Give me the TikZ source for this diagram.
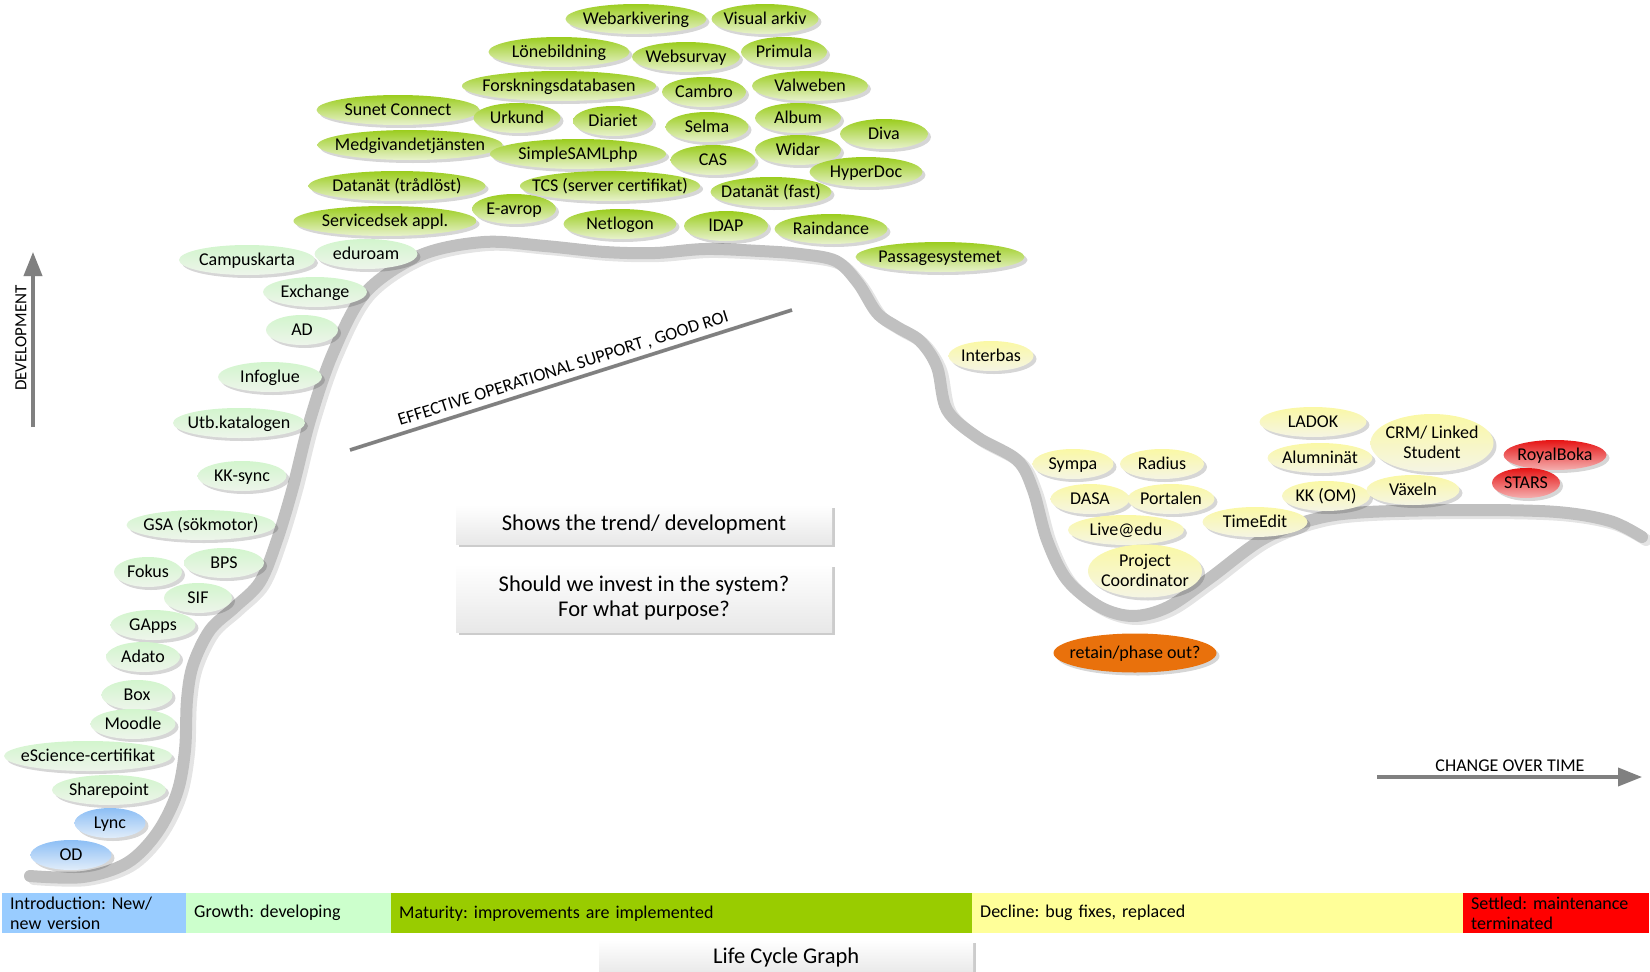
\documentclass[tikz,border=0pt]{standalone}
\usepackage{fontspec}
\setmainfont{Carlito}
\frenchspacing
\usetikzlibrary{shapes.geometric,shadows,arrows.meta}
\definecolor{matT}{RGB}{155,205,30}
\definecolor{matB}{RGB}{232,242,205}
\definecolor{groT}{RGB}{210,245,205}
\definecolor{groB}{RGB}{238,245,235}
\definecolor{bluT}{RGB}{140,190,245}
\definecolor{bluB}{RGB}{225,237,250}
\definecolor{yelT}{RGB}{250,248,165}
\definecolor{yelB}{RGB}{245,245,228}
\definecolor{redT}{RGB}{230,20,20}
\definecolor{redB}{RGB}{245,175,175}
\definecolor{orng}{RGB}{233,113,12}
\definecolor{barBlue}{RGB}{153,204,255}
\definecolor{barLGreen}{RGB}{204,255,204}
\definecolor{barGreen}{RGB}{153,204,0}
\definecolor{barYellow}{RGB}{255,255,153}
\definecolor{barRed}{RGB}{255,0,0}
\definecolor{band}{RGB}{192,192,192}
\definecolor{bandShadow}{RGB}{228,228,228}
\definecolor{arrowGray}{RGB}{128,128,128}
\newcommand{\ct}[1]{\raisebox{-0.32em}[0pt][0pt]{\makebox[0pt]{#1}}}
\newcommand{\cttwo}[2]{\raisebox{-0.3em}[0pt][0pt]{\makebox[0pt]{\begin{tabular}{@{}c@{}}#1\\#2\end{tabular}}}}
\tikzset{
  ell/.style={ellipse, inner sep=0pt, minimum height=30pt,
    font=\fontsize{18}{20}\selectfont,
    drop shadow={shadow xshift=3pt, shadow yshift=-3pt, fill=black, opacity=0.16}},
  ew/.style={minimum width=#1pt},
  mat/.style={ell, top color=matT, bottom color=matB},
  gro/.style={ell, top color=groT, bottom color=groB},
  blu/.style={ell, top color=bluT, bottom color=bluB},
  yel/.style={ell, top color=yelT, bottom color=yelB},
  settled/.style={ell, top color=redT, bottom color=redB},
  phase/.style={ell, fill=orng, minimum height=39pt},
  seg/.style={rectangle, anchor=north west, minimum height=40pt, inner xsep=8pt,
    inner ysep=0pt, align=left, font=\fontsize{18}{20}\selectfont},
  txtbox/.style={rectangle, top color=white, bottom color=black!9, inner sep=0pt,
    font=\fontsize{22.5}{24.5}\selectfont, align=center,
    drop shadow={shadow xshift=2.5pt, shadow yshift=-2.5pt, fill=black, opacity=0.2}},
  axisarrow/.style={draw=arrowGray, line width=3.5pt, -{Triangle[length=24pt,width=18pt]}},
  axisshadow/.style={draw=black!12, line width=3.5pt, -{Triangle[length=24pt,width=18pt]}},
}
\begin{document}
\begin{tikzpicture}[x=1pt,y=-1pt]
\useasboundingbox (0,0) rectangle (1650,972);
% life cycle band
\def\bandpath{(30,876) (83,877) (127,863) (157,833) (177,793) (185,750) (187,700) (193,665) (210,630) (235,607) (260,582) (277,540) (293,487) (310,420) (333,353) (366,292) (421,255) (484,242) (545,246) (605,252) (655,253) (705,249) (760,251) (800,254) (836,261) (858,283) (877,313) (897,327) (920,341) (937,367) (947,410) (977,437) (1017,460) (1033,490) (1047,540) (1067,580) (1100,607) (1133,616) (1168,607) (1210,578) (1263,539) (1315,519) (1368,512) (1473,510) (1557,512) (1610,521) (1642,537)}
\draw[bandShadow, line width=12pt, line cap=round, xshift=4pt, yshift=-3pt] plot[smooth, tension=0.55] coordinates {\bandpath};
\draw[band, line width=12pt, line cap=round] plot[smooth, tension=0.55] coordinates {\bandpath};

% diagonal line
\coordinate (d1) at (350,450);
\coordinate (d2) at (792,310);
\draw[black!12, line width=4pt, yshift=-3pt] (d1) -- (d2);
\draw[arrowGray, line width=3.5pt] (d1) -- node[midway, above, sloped, inner sep=4pt, text=black, font=\fontsize{18}{20}\selectfont, xshift=-4pt] {EFFECTIVE OPERATIONAL SUPPORT , GOOD ROI} (d2);

% axes
\coordinate (dv1) at (33,427);
\coordinate (dv2) at (33,252);
\draw[axisshadow, xshift=3pt, yshift=-2pt] (dv1) -- (dv2);
\draw[axisarrow] (dv1) -- (dv2);
\node[rotate=90, font=\fontsize{17}{19}\selectfont] (devlabel) at (21,338) {DEVELOPMENT};
\coordinate (ch1) at (1377,777);
\coordinate (ch2) at (1642,777);
\draw[axisshadow, xshift=2pt, yshift=-3pt] (ch1) -- (ch2);
\draw[axisarrow] (ch1) -- (ch2);
\node[font=\fontsize{18}{20}\selectfont] (chlabel) at (1510,766) {CHANGE OVER TIME};

% maturity
\node[mat, ew=141] (webark) at (636,19) {\ct{Webarkivering}};
\node[mat, ew=107] (visual) at (765,19) {\ct{Visual arkiv}};
\node[mat, ew=141] (lone) at (559,52) {\ct{Lönebildning}};
\node[mat, ew=108] (websurv) at (686,57) {\ct{Websurvay}};
\node[mat, ew=86] (primula) at (784,52) {\ct{Primula}};
\node[mat, ew=194] (forsk) at (559,86) {\ct{Forskningsdatabasen}};
\node[mat, ew=84] (cambro) at (704,92) {\ct{Cambro}};
\node[mat, ew=116] (valweben) at (810,86) {\ct{Valweben}};
\node[mat, ew=163] (sunet) at (398,110) {\ct{Sunet Connect}};
\node[mat, ew=87] (urkund) at (517,118) {\ct{Urkund}};
\node[mat, ew=80] (diariet) at (613,121) {\ct{Diariet}};
\node[mat, ew=83] (selma) at (707,127) {\ct{Selma}};
\node[mat, ew=86] (album) at (798,118) {\ct{Album}};
\node[mat, ew=88] (diva) at (884,134) {\ct{Diva}};
\node[mat, ew=185] (medgiv) at (410,145) {\ct{Medgivandetjänsten}};
\node[mat, ew=176] (simplesaml) at (578,154) {\ct{SimpleSAMLphp}};
\node[mat, ew=85] (cas) at (713,160) {\ct{CAS}};
\node[mat, ew=86] (widar) at (798,150) {\ct{Widar}};
\node[mat, ew=113] (hyperdoc) at (866,172) {\ct{HyperDoc}};
\node[mat, ew=177] (datatrad) at (397,186) {\ct{Datanät (trådlöst)}};
\node[mat, ew=180] (tcs) at (610,186) {\ct{TCS (server certifikat)}};
\node[mat, ew=121] (datafast) at (771,192) {\ct{Datanät (fast)}};
\node[mat, ew=84] (eavrop) at (514,209) {\ct{E-avrop}};
\node[mat, ew=183] (servicedesk) at (385,221) {\ct{Servicedsek appl.}};
\node[mat, ew=113] (netlogon) at (620,224) {\ct{Netlogon}};
\node[mat, ew=84] (ldap) at (726,226) {\ct{lDAP}};
\node[mat, ew=113] (raindance) at (831,229) {\ct{Raindance}};
\node[mat, ew=169] (passage) at (940,257) {\ct{Passagesystemet}};

% growth
\node[gro, ew=136] (campus) at (247,260) {\ct{Campuskarta}};
\node[gro, ew=103] (eduroam) at (366,254) {\ct{eduroam}};
\node[gro, ew=104] (exchange) at (315,292) {\ct{Exchange}};
\node[gro, ew=72] (ad) at (302,330) {\ct{AD}};
\node[gro, ew=104] (infoglue) at (270,377) {\ct{Infoglue}};
\node[gro, ew=132] (utb) at (239,423) {\ct{Utb.katalogen}};
\node[gro, ew=89] (kksync) at (242,476) {\ct{KK-sync}};
\node[gro, ew=149] (gsa) at (201,525) {\ct{GSA (sökmotor)}};
\node[gro, ew=68] (fokus) at (148,572) {\ct{Fokus}};
\node[gro, ew=80] (bps) at (224,563) {\ct{BPS}};
\node[gro, ew=68] (sif) at (198,598) {\ct{SIF}};
\node[gro, ew=85] (gapps) at (153,625) {\ct{GApps}};
\node[gro, ew=74] (adato) at (143,657) {\ct{Adato}};
\node[gro, ew=71] (box) at (137,695) {\ct{Box}};
\node[gro, ew=85] (moodle) at (133,724) {\ct{Moodle}};
\node[gro, ew=168] (escience) at (88,756) {\ct{eScience-certifikat}};
\node[gro, ew=114] (sharepoint) at (109,790) {\ct{Sharepoint}};
% introduction
\node[blu, ew=71] (lync) at (110,823) {\ct{Lync}};
\node[blu, ew=81] (od) at (71,855) {\ct{OD}};

% decline
\node[yel, ew=85] (interbas) at (991,356) {\ct{Interbas}};
\node[yel, ew=81] (sympa) at (1073,464) {\ct{Sympa}};
\node[yel, ew=84] (radius) at (1162,464) {\ct{Radius}};
\node[yel, ew=79] (dasa) at (1090,499) {\ct{DASA}};
\node[yel, ew=87] (portalen) at (1171,499) {\ct{Portalen}};
\node[yel, ew=116] (liveedu) at (1126,530) {\ct{Live@edu}};
\node[yel, ew=114, minimum height=53pt] (project) at (1145,571) {\cttwo{Project}{Coordinator}};
\node[yel, ew=105] (timeedit) at (1255,522) {\ct{TimeEdit}};
\node[yel, ew=107] (ladok) at (1313,422) {\ct{LADOK}};
\node[yel, ew=105] (alumni) at (1320,458) {\ct{Alumninät}};
\node[yel, ew=123, minimum height=58pt] (crm) at (1432,443) {\cttwo{CRM/ Linked}{Student}};
\node[yel, ew=88] (kkom) at (1326,496) {\ct{KK (OM)}};
\node[yel, ew=93] (vaxeln) at (1413,490) {\ct{Växeln}};
% settled
\node[settled, ew=103] (royal) at (1555,455) {\ct{RoyalBoka}};
\node[settled, ew=68] (stars) at (1526,483) {\ct{STARS}};
% retain
\node[phase, ew=163] (retain) at (1135,653) {\ct{retain/phase out?}};

% center boxes
\node[txtbox, minimum width=376pt, minimum height=39pt] (trend) at (644,524.5) {Shows the trend/ development};
\node[txtbox, minimum width=376pt, minimum height=68pt] (invest) at (644,598) {Should we invest in the system?\\For what purpose?};

% bottom bar
\node[seg, fill=barBlue, minimum width=184pt, text width=168pt] (intro) at (2,893) {Introduction: New/\\new version};
\node[seg, fill=barLGreen, minimum width=205pt, text width=189pt] (growth) at (186,893) {Growth: developing};
\node[seg, fill=barGreen, minimum width=581pt, text width=565pt] (maturity) at (391,893) {Maturity: improvements are implemented};
\node[seg, fill=barYellow, minimum width=491pt, text width=475pt] (decline) at (972,893) {Decline: bug fixes, replaced};
\node[seg, fill=barRed, minimum width=186pt, text width=170pt] (settledbar) at (1463,893) {Settled: maintenance\\terminated};

\node[txtbox, minimum width=374pt, minimum height=34pt, anchor=north west] (title) at (599,940) {Life Cycle Graph};
\end{tikzpicture}
\end{document}
